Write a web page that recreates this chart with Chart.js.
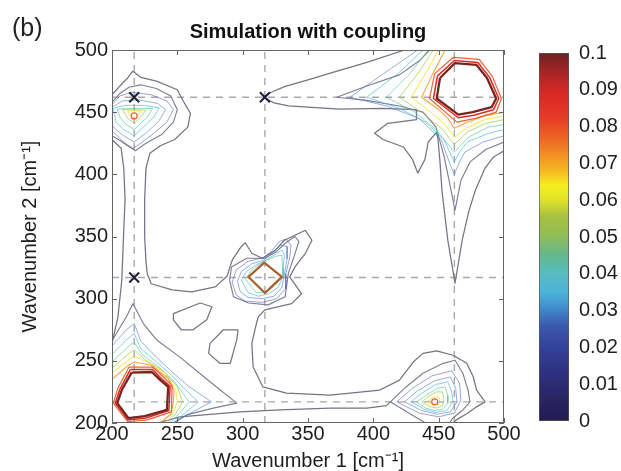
<!DOCTYPE html>
<html><head><meta charset="utf-8">
<script src="https://cdn.jsdelivr.net/npm/chart.js@4.4.1/dist/chart.umd.min.js"></script>
<style>
html,body{margin:0;padding:0;background:#fff;}
#wrap{position:relative;width:621px;height:471px;overflow:hidden;background:#fff;font-family:"Liberation Sans",Arial,Helvetica,sans-serif;}
#main{position:absolute;left:0;top:0;}
#cbar{position:absolute;left:500px;top:0;}
#lbl{position:absolute;left:12px;top:15px;font-size:25px;line-height:1;color:#222;}
</style></head><body>
<div id="wrap">
<canvas id="main" width="621" height="471"></canvas>
<canvas id="cbar" width="121" height="471"></canvas>
<div id="lbl">(b)</div>
</div>
<script>
// ---------- axes / ticks ----------
const xTicks = [200,250,300,350,400,450,500];
const yTicks = [200,250,300,350,400,450,500];
const cbarTicks = [0,0.01,0.02,0.03,0.04,0.05,0.06,0.07,0.08,0.09,0.1];
const fundamentals = [217,317,462];
const crossMarks = [[217,462],[317,462],[217,317]];
const peakDots = [[217,447],[447,217]];

// ---------- gray (lowest level) contours ----------
const g1_main = [[200,464],[206,471],[212,477.5],[216,483],[222,478],[234,475],[250,468],[254,460],[260,449],[258,438],[248,428],[237,423],[229,417],[226,405],[225,380],[225,350],[226,330],[227,320],[230,312],[246,307],[261,305.5],[279,309.5],[288,318],[292,331],[299,342],[302,345],[307,336.5],[315,332.5],[325,339],[332,347],[348,355],[353,347],[348,336.5],[340,325.5],[336,317.5],[345,304],[337.5,296],[317,291],[312,285.5],[310.5,280],[307,264],[308,245],[315.5,229],[333.5,224],[367,222.5],[405,226.5],[420,234.5],[430.5,249],[438,256],[448.5,258],[461,254.5],[471.5,248],[476.5,237],[479,226.5],[485.5,217],[479,213],[471.5,207.5],[463.5,202.5],[461,200]];
const g1_leftstem = [[200,428],[207,421],[209,405],[210,380],[209,355],[207.5,315],[204.5,285],[200,264]];
const g1_ridge = [[235,200],[252,205],[298,209],[328.5,210.5],[367,212],[395,212],[410,214],[413,217]];
const g1_tr = [[424,500],[395,490],[369,482],[350,476],[332,470.5],[322,466],[315.5,462],[324,457.5],[335,455],[350,454],[374,452.5],[407,453],[433,452],[433,444],[411,441],[401,433],[407.5,428],[423,422],[430,412],[434,401],[439.5,412],[442,426],[448.5,434],[449.5,428],[451,410],[452.5,387],[457,347],[462.5,312.5],[468,347],[473,370],[478,387],[485.5,405],[492,414],[500,419]];
const loop1 = [[247,288],[267.5,296.5],[276.5,293.5],[272.5,283],[262,275],[253,275],[247,283],[247,288]];
const loop2 = [[285,275],[296.5,275],[295.5,267],[290.5,248],[282.5,248],[274,256],[275,264],[282.5,272],[285,275]];

// ---------- second gray level ----------
const g2_tl = [[200,458],[206,465],[213,470],[222,472],[234,469],[245,463],[250,452],[247,442],[238,432],[226,425],[218,419],[212,423],[205,428],[200,431]];
const g2_center = [[290,315],[291.5,325.5],[303,332.5],[317,332.5],[326,338],[333,345],[340,350],[343,346],[340,336],[335,320.5],[332.5,301.5],[319.5,295],[304.5,296.5],[293,301.5],[290,315]];
const g2_bl = [[200.5,267],[205,275],[211,285.5],[216,296],[224,280],[234,267],[252,253],[267,240],[280,229],[295.5,216],[277.5,212],[257,206.5],[247,200]];
const g2_br = [[440,200],[428,207.5],[413,217],[425,229],[438,240],[453.5,248],[462.5,250.5],[468.5,240],[472.5,226.5],[474,217],[468.5,210.5],[461,204],[458,200]];
const g2_tr = [[443,500],[436,492],[420,480],[395,471],[372,462],[395,459.5],[420,455],[438,450],[448,438],[454,415],[458,395],[462.5,371],[467,395],[474,410],[486,420],[500,426]];

// ---------- top-left peak ----------
const tl1 = [[200,456],[206,463],[215,466],[230,464],[242,459],[247,452],[242,442],[232,433],[222,425],[216,421],[210,425],[203,432],[200,435]];
const tl2 = [[200,454],[208,459],[220,460],[235,457],[241,452],[236,443],[227,434],[217,426],[209,431],[202,437],[200,440]];
const tl3 = [[201,453],[210,455.5],[225,455.5],[236,453.5],[232,446],[224,438],[217,431],[209,436],[203,442],[201,453]];
const tl4 = [[204,452.5],[215,453],[231,453],[227,446],[221,440],[217,436],[211,440],[206,446],[204,452.5]];
const tl5 = [[208,452],[218,452],[226,451.5],[222,446],[217,441],[212,445],[208,452]];
const tl6 = [[212,451],[222,451],[219,446],[217,444],[214,447],[212,451]];

// ---------- top-right peak ----------
const tr2 = [[434,500],[412,484],[382,462],[410,455],[435,445],[452,428],[458,410],[462,400],[466,410],[470,418],[484,426],[500,431]];
const tr3 = [[438,500],[420,482],[395,462],[420,453],[440,442],[454,428],[462,410],[466,418],[472,426],[488,433],[500,436]];
const tr4 = [[442,500],[428,481],[410,462],[432,450],[448,436],[462,418],[473,430],[488,438],[500,440]];
const tr5 = [[446,500],[434,481],[420,462],[438,449],[453,436],[462,424],[472,434],[486,441],[500,444]];
const tr6 = [[450,500],[440,481],[429,462],[444,450],[455,440],[462,430],[471,437],[485,444],[500,447]];
const tr7 = [[455,500],[446,482],[437,462],[449,453],[457,445],[462,437],[470,441],[485,447],[500,450]];
const tr8 = [[447,481],[461,494],[481,492.5],[491,479],[498,461],[494,450],[478,445],[464,442],[443,461],[447,481]];
const tr9 = [[449,479],[462,491.5],[480,490],[489,478],[496,461],[492,452],[477,447.5],[465,445.5],[446,461],[449,479]];
const tr10 = [[451,477.5],[462.5,489.5],[479,488],[487,477.5],[494,461],[490.5,454],[476,450],[465,448],[448.5,461],[451,477.5]];

// ---------- centre peak ----------
const cc1 = [[292,313],[295,323],[304,330],[316,333],[322,338],[328,346],[333,348],[337,343],[336,333],[333,320],[333,308],[326,300],[315,297],[302,298],[295,303],[292,313]];
const cc2 = [[296,314],[299,322],[307,328],[316,331],[323,337],[329,343],[334,342],[334,332],[332,320],[330,309],[324,302],[315,300],[304,301],[298,306],[296,314]];
const cc3 = [[299,315],[303,322],[310,327],[316,330],[324,335],[330,339],[332,335],[331,325],[331,318],[327,309],[320,304],[312,302],[304,305],[299,315]];
const cc4 = [[302,316],[308,324],[316,330],[325,334],[330,335],[330.5,326],[331,318],[324,310],[318,305],[310,305],[302,316]];
const ccTop = [[316.5,329],[330,317.5],[317,304.5],[304.5,317.5],[316.5,329]];

// ---------- bottom-left peak ----------
const bl2 = [[200,262],[210,274],[217,280],[222,266],[232,255],[245,242],[258,230],[276,217],[262,209],[252,203],[248,200]];
const bl3 = [[200,255],[211,267],[217,272],[222,260],[233,250],[246,238],[256,227],[266,217],[256,208],[249,202],[246,200]];
const bl4 = [[200,249],[212,261],[217,265],[223,255],[236,245],[248,233],[259,217],[251,207],[245,201],[243,200]];
const bl5 = [[200,244],[212,255],[217,259],[225,251],[239,242],[250,229],[254,217],[248,206],[242,200]];
const bl6 = [[200,240],[212,250],[217,254],[227,249],[241,240],[249,226],[250,217],[246,206],[241,200]];
const bl7 = [[201,236],[212,246],[217,249],[230,246.5],[243,236],[247.5,226],[247,217],[245,207],[238,201]];
const bl8 = [[213,245],[231,245],[239.5,237],[246,230],[245.5,209],[227,202.5],[212,201],[201,216],[204.5,228],[213,245]];
const bl9 = [[214,243],[231,243],[238,235.5],[244.5,229.5],[243.5,210],[226,204],[212,202.5],[202.5,216],[206,227],[214,243]];
const bl10 = [[215,240.5],[230.5,241],[237,234.5],[243,229],[242,210.5],[225,205.5],[212.5,204],[204,216],[207.5,226.5],[215,240.5]];

// ---------- bottom-right peak ----------
const br1 = [[418,217],[430,228],[445,238],[460,242],[466,232],[467,218],[462,208],[450,205],[435,208],[418,217]];
const br2 = [[424,217],[434,226],[447,234],[459,237],[463,228],[464,217],[459,209],[449,207],[437,210],[424,217]];
const br3 = [[429,217],[437,224],[448,231],[457,233],[460,225],[461,217],[456,210],[448,208.5],[439,211],[429,217]];
const br4 = [[433,217],[440,222],[449,228],[455,229],[457,222],[457,216],[453,211],[447,210],[440,212],[433,217]];
const br5 = [[437,217],[442,221],[448,225],[453,225],[454,219],[453,214],[449,212],[444,213],[437,217]];
const br6 = [[441,217],[445,220],[449,222],[451,219],[450,215],[447,214],[441,217]];

// ---------- styles ----------
const FONT = '"Liberation Sans", Arial, Helvetica, sans-serif';
const TXT = '#1e1e1e';
const STY = {
  g1:{c:'#747484', w:1.25}, g2:{c:'#7e7e98', w:1.15},
  1:{c:'rgba(60,70,160,0.5)', w:1}, 2:{c:'rgba(60,110,200,0.55)', w:1},
  3:{c:'rgba(70,180,225,0.65)', w:1}, 4:{c:'rgba(90,195,160,0.65)', w:1},
  5:{c:'rgba(160,200,70,0.7)', w:1}, 6:{c:'rgba(240,222,40,0.8)', w:1},
  7:{c:'rgba(245,150,40,0.85)', w:1.1}, 8:{c:'rgba(235,80,35,0.9)', w:1.2},
  9:{c:'#d92a24', w:1.5}, 10:{c:'#7a2420', w:2.3}, dia:{c:'#a8602c', w:2.2},
  grid:{c:'#a9a9a9', w:1.4, dash:[7,6]}
};
const cmapStops = [[0,'#231a50'],[0.05,'#29235f'],[0.12,'#2c2f7c'],[0.2,'#34429a'],[0.26,'#3a5aae'],[0.31,'#4390cc'],[0.35,'#4cb2da'],[0.4,'#58bcc0'],[0.45,'#63b88e'],[0.5,'#8ebd5a'],[0.56,'#aac23e'],[0.6,'#e0e22a'],[0.64,'#f4ee1e'],[0.68,'#f5b820'],[0.72,'#f29224'],[0.77,'#ec6424'],[0.82,'#e63e26'],[0.88,'#de2a26'],[0.93,'#b82626'],[1,'#6e2222']];

const contours = [
  ['g1',g1_main],['g1',g1_leftstem],['g1',g1_ridge],['g1',g1_tr],['g1',loop1],['g1',loop2],
  ['g2',g2_tl],['g2',g2_center],['g2',g2_bl],['g2',g2_br],['g2',g2_tr],
  [1,tl1],[2,tl2],[3,tl3],[4,tl4],[5,tl5],[6,tl6],
  [2,tr2],[3,tr3],[4,tr4],[5,tr5],[6,tr6],[7,tr7],[8,tr8],[9,tr9],[10,tr10],
  [1,cc1],[2,cc2],[3,cc3],[4,cc4],['dia',ccTop],
  [2,bl2],[3,bl3],[4,bl4],[5,bl5],[6,bl6],[7,bl7],[8,bl8],[9,bl9],[10,bl10],
  [1,br1],[2,br2],[3,br3],[4,br4],[5,br5],[6,br6]
];

const toXY = a => a.map(([x,y]) => ({x, y}));
function lineDs(pts, s){
  return {data: toXY(pts), showLine:true, borderColor:s.c, borderWidth:s.w, borderDash:s.dash||[],
    pointRadius:0, pointHoverRadius:0, fill:false, tension:0, borderJoinStyle:'round'};
}

const ds = [];
const yLo = yTicks[0], yHi = yTicks[yTicks.length-1], xLo = xTicks[0], xHi = xTicks[xTicks.length-1];
fundamentals.forEach(v => {
  ds.push(lineDs([[v,yLo],[v,yHi]], STY.grid));
  ds.push(lineDs([[xLo,v],[xHi,v]], STY.grid));
});
contours.forEach(([lvl, pts]) => ds.push(lineDs(pts, STY[lvl])));
ds.push({data: toXY(peakDots), showLine:false, pointStyle:'circle', pointRadius:3,
  pointBorderColor:'#e8643c', pointBackgroundColor:'rgba(0,0,0,0)', pointBorderWidth:1.2});
ds.push({data: toXY(crossMarks), showLine:false, pointStyle:'crossRot', pointRadius:7,
  pointBorderColor:'#1e1e3c', pointBorderWidth:2});
ds.reverse();

const framePlugin = {
  id:'frame',
  afterDatasetsDraw(chart){
    const {ctx, chartArea:a, scales:{x, y}} = chart;
    ctx.save();
    ctx.strokeStyle = '#666'; ctx.lineWidth = 1;
    ctx.strokeRect(a.left+0.5, a.top+0.5, a.right-a.left-1, a.bottom-a.top-1);
    ctx.beginPath();
    xTicks.forEach(v => { const p = Math.round(x.getPixelForValue(v))+0.5;
      ctx.moveTo(p, a.bottom); ctx.lineTo(p, a.bottom-5); ctx.moveTo(p, a.top); ctx.lineTo(p, a.top+5); });
    yTicks.forEach(v => { const p = Math.round(y.getPixelForValue(v))+0.5;
      ctx.moveTo(a.left, p); ctx.lineTo(a.left+5, p); ctx.moveTo(a.right, p); ctx.lineTo(a.right-5, p); });
    ctx.stroke(); ctx.restore();
  }
};

new Chart(document.getElementById('main'), {
  type:'scatter',
  data:{datasets: ds},
  options:{
    responsive:false, animation:false, devicePixelRatio:1,
    layout:{padding:{left:0, right:117, top:0, bottom:0}},
    plugins:{
      legend:{display:false}, tooltip:{enabled:false},
      title:{display:true, text:'Simulation with coupling', fullSize:false, color:'#111',
        font:{family:FONT, size:20, weight:'bold', lineHeight:1.2}, padding:{top:20, bottom:6}}
    },
    scales:{
      x:{type:'linear', min:xLo, max:xHi,
        afterBuildTicks: s => { s.ticks = xTicks.map(v => ({value:v})); },
        afterFit: s => { s.height = 48; },
        ticks:{font:{family:FONT, size:20, lineHeight:1}, color:TXT, padding:1, maxRotation:0, autoSkip:false},
        grid:{display:false, drawTicks:false}, border:{display:false},
        title:{display:true, text:'Wavenumber 1 [cm\u207B\u00B9]', color:TXT, font:{family:FONT, size:20, lineHeight:1}, padding:{top:0, bottom:0}}},
      y:{type:'linear', min:yLo, max:yHi,
        afterBuildTicks: s => { s.ticks = yTicks.map(v => ({value:v})); },
        afterFit: s => { s.width = 112; },
        ticks:{font:{family:FONT, size:20, lineHeight:1}, color:TXT, padding:4, autoSkip:false},
        grid:{display:false, drawTicks:false}, border:{display:false},
        title:{display:true, text:'Wavenumber 2 [cm\u207B\u00B9]', color:TXT, font:{family:FONT, size:20, lineHeight:1}, padding:{top:20, bottom:0}}}
    }
  },
  plugins:[framePlugin]
});

// ---------- colour bar ----------
new Chart(document.getElementById('cbar'), {
  type:'bar',
  data:{labels:[''], datasets:[{
    data:[[cbarTicks[0], cbarTicks[cbarTicks.length-1]]],
    backgroundColor: c => {
      const a = c.chart.chartArea; if (!a) return '#888';
      const g = c.chart.ctx.createLinearGradient(0, a.bottom, 0, a.top);
      cmapStops.forEach(([p, col]) => g.addColorStop(p, col));
      return g;
    },
    borderColor:'#555', borderWidth:1, borderSkipped:false, barPercentage:1, categoryPercentage:1
  }]},
  options:{
    responsive:false, animation:false, devicePixelRatio:1,
    layout:{padding:{left:39, top:53, bottom:50, right:0}},
    plugins:{legend:{display:false}, tooltip:{enabled:false}},
    scales:{
      x:{display:false},
      y:{position:'right', min:cbarTicks[0], max:cbarTicks[cbarTicks.length-1],
        afterBuildTicks: s => { s.ticks = cbarTicks.map(v => ({value:v})); },
        afterFit: s => { s.width = 52; },
        ticks:{font:{family:FONT, size:20, lineHeight:1}, color:TXT, padding:10, autoSkip:false,
          callback: v => String(+Number(v).toFixed(2))},
        grid:{display:false, drawTicks:false}, border:{display:false}}
    }
  }
});
</script>
</body></html>
